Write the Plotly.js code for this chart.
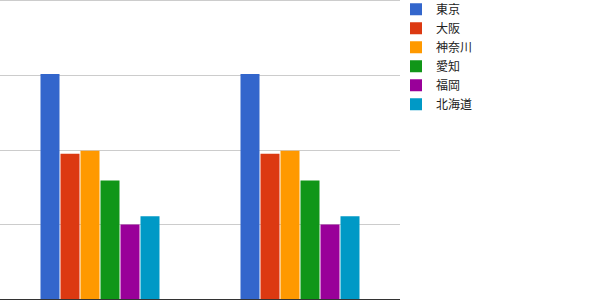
<!DOCTYPE html>
<html>
<head>
<meta charset="utf-8">
<script src="https://cdn.plot.ly/plotly-3.0.1.min.js"></script>
<style>html,body{margin:0;padding:0;background:#fff;}#chart{width:600px;height:300px;}</style>
</head>
<body>
<div id="chart"></div>
<script>
const categories = ["A", "B"];
const seriesNames = ["東京", "大阪", "神奈川", "愛知", "福岡", "北海道"];
const seriesColors = ["#3366cc", "#dc3912", "#ff9900", "#109618", "#990099", "#0099c6"];
const tokyo = [3.02, 3.02];
const osaka = [1.95, 1.95];
const kanagawa = [1.99, 1.99];
const aichi = [1.59, 1.59];
const fukuoka = [1.0, 1.0];
const hokkaido = [1.11, 1.11];
const seriesValues = [tokyo, osaka, kanagawa, aichi, fukuoka, hokkaido];

const traces = seriesNames.map((n, i) => ({
  type: "bar",
  name: n,
  x: categories,
  y: seriesValues[i],
  marker: {color: seriesColors[i], line: {width: 0}},
  hoverinfo: "none"
}));

const layout = {
  width: 600, height: 300,
  margin: {l: 0, r: 200, t: 1, b: 1, pad: 0, autoexpand: false},
  paper_bgcolor: "#fff", plot_bgcolor: "#fff",
  barmode: "group", bargap: 0.4, bargroupgap: 0.05,
  showlegend: true,
  legend: {
    x: 0.99, xanchor: "left", y: 1.021, yanchor: "top",
    font: {family: "Noto Sans CJK JP, Noto Sans, sans-serif", size: 12, color: "#222"},
    itemwidth: 30, tracegroupgap: 0, bgcolor: "rgba(0,0,0,0)"
  },
  shapes: [{
    type: "line", xref: "paper", yref: "paper", x0: 0, x1: 1,
    y0: 1 + 0.5 / 298, y1: 1 + 0.5 / 298,
    line: {color: "#cccccc", width: 1}, layer: "below"
  }],
  xaxis: {
    type: "category", showticklabels: false, showgrid: false, zeroline: false,
    showline: true, linecolor: "#333", linewidth: 1, ticks: ""
  },
  yaxis: {
    range: [0, 4], dtick: 1, tick0: 0, showticklabels: false,
    showgrid: true, gridcolor: "#cccccc", gridwidth: 1, zeroline: false, showline: false, ticks: ""
  },
  font: {family: "Noto Sans CJK JP, Noto Sans, sans-serif"}
};

Plotly.newPlot("chart", traces, layout, {staticPlot: true, displayModeBar: false});
</script>
</body>
</html>
